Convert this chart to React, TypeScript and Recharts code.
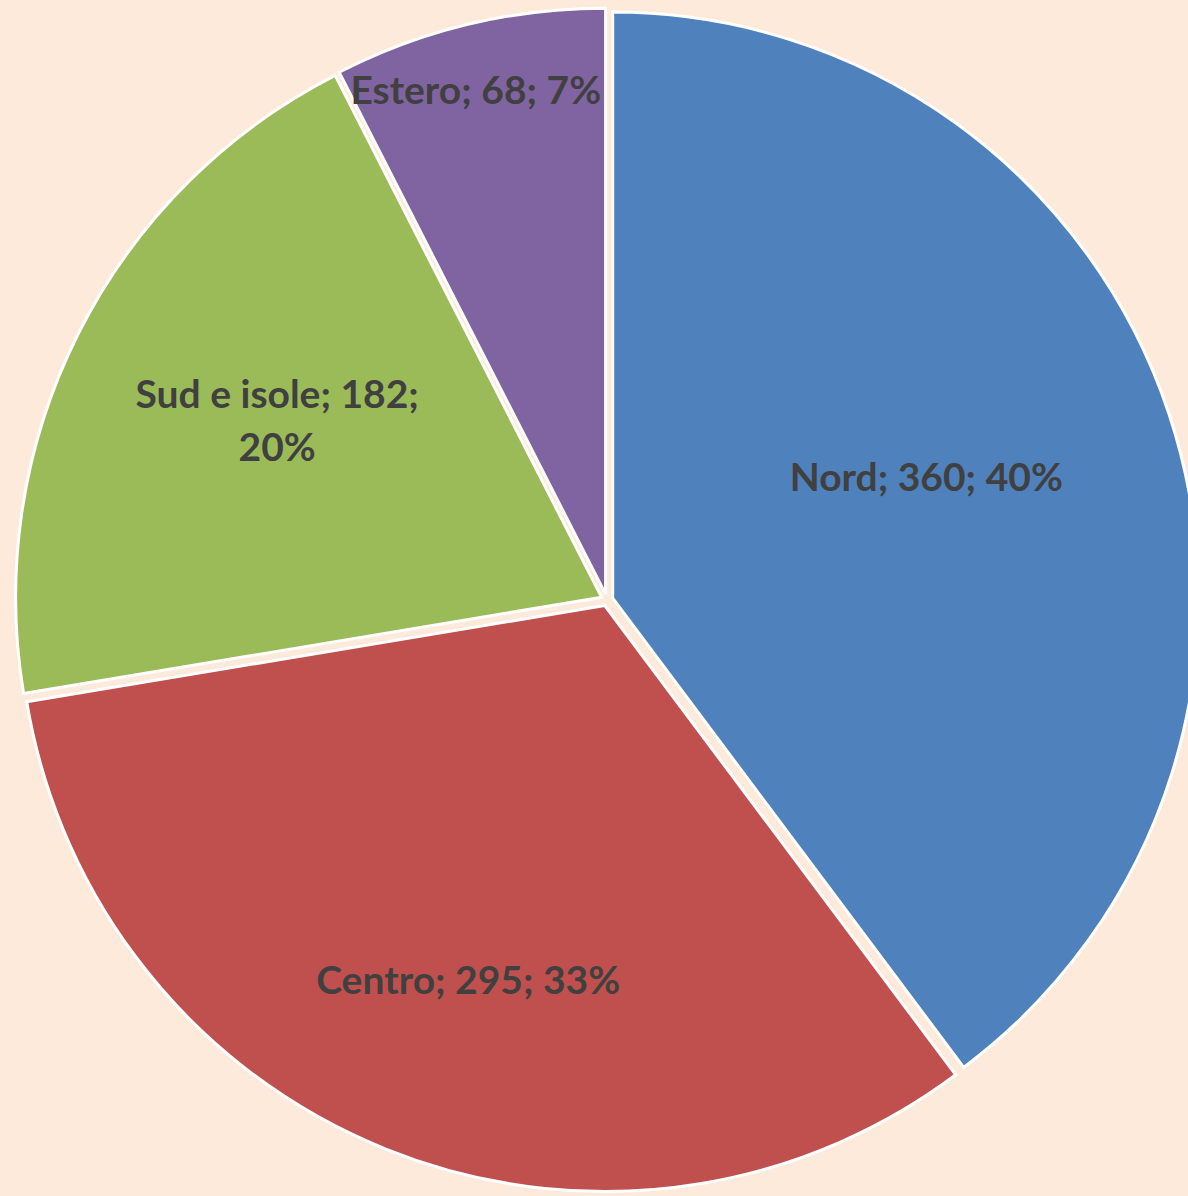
import { PieChart, Pie, Cell, Sector } from 'recharts';

// Ripartizione per area geografica
const AREE = ['Nord', 'Centro', 'Sud e isole', 'Estero'];
const VALORI = [360, 295, 182, 68];
const PERCENTUALI = ['40%', '33%', '20%', '7%'];

const COLORI = ['#4F81BD', '#C0504D', '#9BBB59', '#8064A2'];
const SFONDO = '#FDEADB';
const TESTO = '#404040';
const FONT = 'Lato, "Open Sans", sans-serif';

const RADIAN = Math.PI / 180;
const ESPLOSO = 6;

// posizione etichette: frazione del raggio e piccola correzione d'angolo
const POS_ETICHETTE: Record<string, { r: number; da: number; righe?: boolean }> = {
  Nord: { r: 0.584, da: 2.7 },
  Centro: { r: 0.69, da: 1.8 },
  'Sud e isole': { r: 0.641, da: -1.85, righe: true },
  Estero: { r: 0.899, da: 0.9 },
};

const rows = AREE.map((nome, i) => ({ nome, valore: VALORI[i], perc: PERCENTUALI[i] }));

function SpicchioEsploso(props: any) {
  const { cx, cy, midAngle } = props;
  const dx = ESPLOSO * Math.cos(-midAngle * RADIAN);
  const dy = ESPLOSO * Math.sin(-midAngle * RADIAN);
  return <Sector {...props} cx={cx + dx} cy={cy + dy} />;
}

function Etichetta(props: any) {
  const { cx, cy, midAngle, outerRadius, payload } = props;
  const nome = payload?.nome ?? props.nome;
  const pos = POS_ETICHETTE[nome];
  const a = (midAngle + pos.da) * RADIAN;
  const x = cx + outerRadius * pos.r * Math.cos(-a);
  const y = cy + outerRadius * pos.r * Math.sin(-a);
  const righe = pos.righe
    ? [`${nome}; ${payload.valore};`, payload.perc]
    : [`${nome}; ${payload.valore}; ${payload.perc}`];
  const lh = 53;
  const y0 = y - ((righe.length - 1) * lh) / 2 + 14;
  return (
    <text x={x} textAnchor="middle" fill={TESTO} fontFamily={FONT} fontWeight={700} fontSize={39}>
      {righe.map((r, i) => (
        <tspan key={i} x={x} y={y0 + i * lh}>{r}</tspan>
      ))}
    </text>
  );
}

export default function App() {
  if (typeof document !== 'undefined') document.body.style.margin = '0';
  return (
    <div style={{ width: 1188, height: 1196, background: SFONDO }}>
      <PieChart width={1188} height={1196} margin={{ top: 0, right: 0, bottom: 0, left: 0 }}>
        <Pie
          data={rows}
          dataKey="valore"
          nameKey="nome"
          cx={607}
          cy={600}
          outerRadius={586}
          startAngle={90}
          endAngle={-270}
          stroke="#FFFFFF"
          strokeWidth={3}
          shape={SpicchioEsploso}
          activeShape={SpicchioEsploso}
          inactiveShape={SpicchioEsploso}
          label={Etichetta}
          labelLine={false}
          isAnimationActive={false}
        >
          {rows.map((_, i) => (
            <Cell key={i} fill={COLORI[i]} />
          ))}
        </Pie>
      </PieChart>
    </div>
  );
}
